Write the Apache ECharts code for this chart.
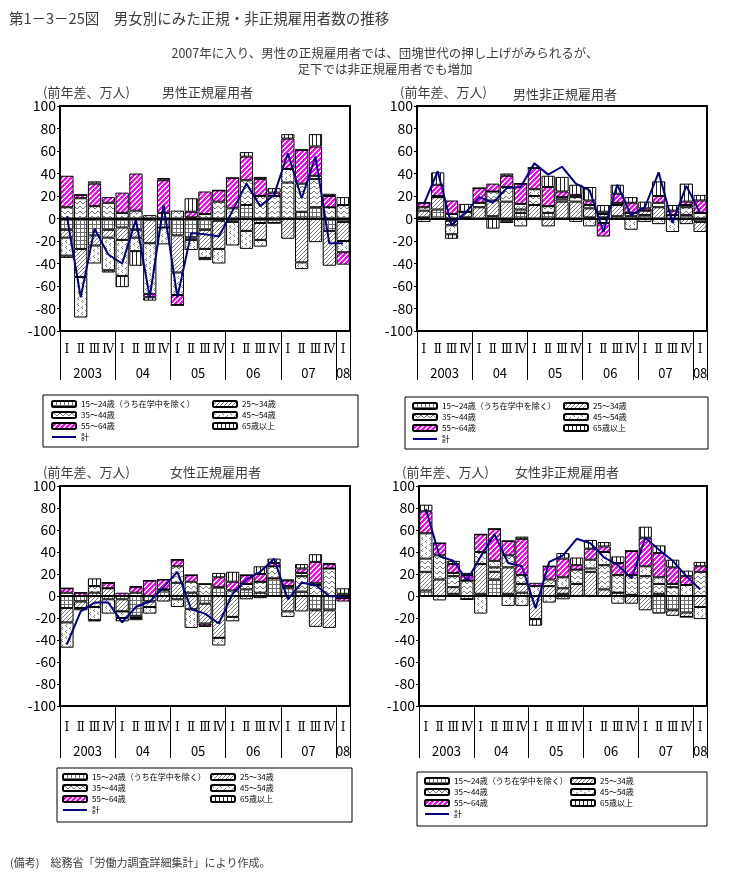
<!DOCTYPE html>
<html><head><meta charset="utf-8">
<script src="https://cdn.jsdelivr.net/npm/echarts@6/dist/echarts.min.js"></script>
<style>html,body{margin:0;padding:0;background:#fff}#c{width:731px;height:893px}</style>
</head><body><div id="c"></div>
<script>
// ---------- data ----------
const quarterLabels = ['Ⅰ','Ⅱ','Ⅲ','Ⅳ','Ⅰ','Ⅱ','Ⅲ','Ⅳ','Ⅰ','Ⅱ','Ⅲ','Ⅳ','Ⅰ','Ⅱ','Ⅲ','Ⅳ','Ⅰ','Ⅱ','Ⅲ','Ⅳ','Ⅰ'];
const yearLabels = ['2003','04','05','06','07','08'];
const quartersPerYear = [4,4,4,4,4,1];
const seriesNames = ['15～24歳（うち在学中を除く）','25～34歳','35～44歳','45～54歳','55～64歳','65歳以上','計'];
const yTicks = [-100,-80,-60,-40,-20,0,20,40,60,80,100];

// 男性正規雇用者
const mr1524 = [-10,-27,-15,-10,-8,-10,-1,-8,-15,-17,-10,-2,-1,12,-4,-4,0,6,10,-11,-3];
const mr2534 = [-7,-25,-9,-7,-11,-7,-21,0,-33,-2,-17,-25,-2,-11,-15,0,-18,-39,-21,-31,-17];
const mr3544 = [10,18,11,14,5,7,3,5,7,1,4,15,9,22,20,20,32,25,25,10,12];
const mr4554 = [-16,-36,-16,-29,-32,-12,-45,-15,-20,-9,-8,-13,-21,-16,-6,0,12,-6,3,0,-10];
const mr5564 = [28,3,20,5,18,33,-3,29,-9,5,20,10,27,21,15,3,27,30,26,10,-11];
const mr65   = [-2,0,2,-2,-10,-13,-3,2,0,12,-2,0,0,4,2,4,4,0,11,2,7];
const mrTotal = [2,-70,-9,-32,-40,-1,-70,12,-70,-13,-14,-16,7,31,11,21,58,18,55,-22,-22];

// 男性非正規雇用者
const mn1524 = [1,8,-2,1,-1,2,-2,5,0,5,0,0,1,1,2,2,3,0,0,3,-3];
const mn2534 = [6,11,-4,5,10,14,15,3,12,-7,15,15,8,3,10,3,4,10,3,-5,-9];
const mn3544 = [3,0,4,0,4,8,13,5,8,6,2,4,3,2,2,0,0,4,0,7,5];
const mn4554 = [-3,1,-8,0,0,0,-2,-7,6,0,2,-3,-7,-4,0,-10,-3,-5,-12,2,0];
const mn5564 = [4,10,12,0,13,7,10,18,19,17,5,2,4,-12,8,9,2,6,4,3,11];
const mn65   = [0,11,-4,7,0,-9,2,0,0,10,13,9,12,6,8,5,6,13,5,16,5];
const mnTotal = [13,42,-6,5,19,14,27,28,49,39,46,31,25,-12,30,3,10,41,-4,29,5];

// 女性正規雇用者
const fr1524 = [-11,-5,3,-3,-3,-18,-5,5,-3,3,-7,8,0,6,3,16,7,4,-13,-13,2];
const fr2534 = [-13,-6,-10,7,-11,-2,-5,-5,12,-12,-18,-38,-19,-3,-2,0,-14,-14,-15,-16,-2];
const fr3544 = [3,0,6,0,0,3,0,1,15,10,11,0,5,5,10,11,2,14,10,25,0];
const fr4554 = [-23,-2,-12,-13,-6,-2,-6,0,-7,-17,0,-7,-4,0,0,0,-5,3,2,0,0];
const fr5564 = [4,3,-1,5,3,5,14,9,6,6,-2,9,8,8,7,3,5,4,19,4,-3];
const fr65   = [0,0,7,0,-3,1,0,0,0,0,-1,4,9,0,7,4,1,4,7,1,5];
const frTotal = [-44,-14,-6,-6,-24,-10,-5,8,22,-12,-16,-25,2,15,22,34,-3,12,10,0,-1];

// 女性非正規雇用者
const fn1524 = [5,0,2,-3,2,15,2,3,0,0,2,0,0,0,3,1,0,-16,-13,-15,0];
const fn2534 = [17,15,6,0,27,7,24,8,-21,9,5,11,22,6,0,-7,-13,2,-5,-4,-10];
const fn3544 = [12,22,10,14,11,4,11,8,0,6,-3,13,3,22,16,18,18,9,8,0,22];
const fn4554 = [23,-4,3,0,-16,6,-9,-9,9,-6,10,0,8,12,-7,0,9,6,3,10,-11];
const fn5564 = [20,11,8,5,16,29,13,33,3,12,17,4,10,5,11,22,26,22,15,8,5];
const fn65   = [6,0,3,2,0,0,0,2,-6,0,5,7,8,4,6,0,10,7,7,5,4];
const fnTotal = [79,36,32,14,36,56,30,27,-11,31,37,52,48,35,28,16,53,42,32,18,6];

// ---------- derived axis positions ----------
const yearBoundaries = [0];
quartersPerYear.forEach(n => yearBoundaries.push(yearBoundaries[yearBoundaries.length-1] + n));
const yearCenters = quartersPerYear.map((n, i) => (yearBoundaries[i] + yearBoundaries[i+1]) / 2);

// ---------- patterns ----------
function pat(w, h, draw) {
  const c = document.createElement('canvas');
  c.width = w; c.height = h;
  const g = c.getContext('2d');
  g.fillStyle = '#fff'; g.fillRect(0, 0, w, h);
  draw(g);
  return { image: c, repeat: 'repeat' };
}
const patterns = [
  pat(4, 4, g => { g.fillStyle = '#6e6e6e'; g.fillRect(0,0,4,1); g.fillRect(0,0,1,4); }),
  pat(4, 4, g => { g.fillStyle = '#7a7a7a'; for (let i=0;i<4;i++) g.fillRect(3-i, i, 1, 1); }),
  pat(6, 5, g => { g.fillStyle = '#7a7a7a'; const ys=[2,1,1,2,3,3]; ys.forEach((y,x)=>g.fillRect(x,y,1,1)); }),
  pat(8, 6, g => { g.fillStyle = '#7a7a7a'; g.fillRect(1,1,1,1); g.fillRect(2,0,1,1); g.fillRect(2,2,1,1); g.fillRect(5,4,1,1); g.fillRect(6,3,1,1); g.fillRect(6,5,1,1); }),
  pat(5, 5, g => { g.fillStyle = '#ff00ff'; g.fillRect(0,0,5,5); g.fillStyle = '#fff'; for (let x=0;x<5;x++) for (let y=0;y<5;y++) { const k=(x+y)%5; if (k===0||k===1) g.fillRect(x,y,1,1); } }),
  pat(4, 1, g => { g.fillStyle = '#222'; g.fillRect(0,0,1,1); })
];

// ---------- layout ----------
const FONT = 'Noto Sans CJK JP';
const panels = [
  { name:'男性正規雇用者', bars:[mr1524,mr2534,mr3544,mr4554,mr5564,mr65], total:mrTotal,
    grid:{left:60,top:106,width:290,height:225}, unit:[38,81], title:[157,81], qm:13, ym:36, tl:49,
    box:[43,395,315,52], legA:[51,400], legB:[212,400] },
  { name:'男性非正規雇用者', bars:[mn1524,mn2534,mn3544,mn4554,mn5564,mn65], total:mnTotal,
    grid:{left:417,top:106,width:290,height:225}, unit:[395,81], title:[508,83], qm:13, ym:36, tl:49,
    box:[405,397,303,52], legA:[412,402], legB:[563,402] },
  { name:'女性正規雇用者', bars:[fr1524,fr2534,fr3544,fr4554,fr5564,fr65], total:frTotal,
    grid:{left:60,top:486,width:290,height:220}, unit:[38,461], title:[165,461], qm:16, ym:39, tl:52,
    box:[57,768,295,54], legA:[62,773], legB:[210,773] },
  { name:'女性非正規雇用者', bars:[fn1524,fn2534,fn3544,fn4554,fn5564,fn65], total:fnTotal,
    grid:{left:419,top:486,width:288,height:220}, unit:[397,461], title:[510,461], qm:16, ym:39, tl:52,
    box:[417,772,290,54], legA:[424,777], legB:[570,777] }
];

const option = {
  animation:false,
  backgroundColor:'#fff',
  textStyle:{fontFamily:FONT, color:'#000'},
  title:[
    {text:'第1－3－25図　男女別にみた正規・非正規雇用者数の推移', left:4, top:6, textStyle:{fontSize:14.5, fontWeight:'normal', fontFamily:FONT}},
    {text:'2007年に入り、男性の正規雇用者では、団塊世代の押し上げがみられるが、\n足下では非正規雇用者でも増加', left:380, top:40, textAlign:'center',
      textStyle:{fontSize:12.5, fontWeight:'normal', lineHeight:16, fontFamily:FONT, align:'center'}},
    {text:'(備考)　総務省「労働力調査詳細集計」により作成。', left:5, top:852, textStyle:{fontSize:11, fontWeight:'normal', fontFamily:FONT}}
  ],
  grid:[], xAxis:[], yAxis:[], series:[], legend:[], graphic:[]
};

panels.forEach((p, gi) => {
  option.title.push({text:'(前年差、万人)', left:p.unit[0], top:p.unit[1], textStyle:{fontSize:13, fontWeight:'normal', fontFamily:FONT}});
  option.title.push({text:p.name, left:p.title[0], top:p.title[1], textStyle:{fontSize:13, fontWeight:'normal', fontFamily:FONT}});
  option.grid.push(Object.assign({show:true, borderColor:'#000', borderWidth:2, backgroundColor:'transparent'}, p.grid));
  option.xAxis.push({type:'category', gridIndex:gi, data:quarterLabels, position:'bottom',
    axisLine:{show:false}, axisTick:{show:false}, splitLine:{show:false},
    axisLabel:{interval:0, margin:p.qm, fontSize:12, color:'#000', fontFamily:'DejaVu Serif'}});
  option.xAxis.push({type:'value', gridIndex:gi, min:yearBoundaries[0], max:yearBoundaries[yearBoundaries.length-1], position:'bottom',
    axisLine:{show:false}, splitLine:{show:false},
    axisTick:{show:true, customValues:yearBoundaries, length:p.tl, lineStyle:{color:'#000', width:1}},
    axisLabel:{show:true, customValues:yearCenters, margin:p.ym, fontSize:13, color:'#000', fontFamily:FONT,
      formatter: v => { const i = yearCenters.findIndex(c => Math.abs(c - v) < 1e-6); return i >= 0 ? yearLabels[i] : ''; }}});
  option.yAxis.push({type:'value', gridIndex:gi, min:yTicks[0], max:yTicks[yTicks.length-1], interval:yTicks[1]-yTicks[0],
    axisLine:{show:true, lineStyle:{color:'#000', width:2}}, axisTick:{show:true, length:3, lineStyle:{color:'#000'}},
    splitLine:{show:false}, axisLabel:{fontSize:14, color:'#000', margin:4, fontFamily:FONT}});
  p.bars.forEach((arr, si) => {
    const s = {type:'bar', name:seriesNames[si], xAxisIndex:gi*2, yAxisIndex:gi, stack:'st'+gi, data:arr,
      barCategoryGap:'4%', itemStyle:{color:patterns[si], borderColor:'#000', borderWidth:1}, emphasis:{disabled:true}, silent:true};
    if (si === 0) s.markLine = {silent:true, symbol:'none', data:[{yAxis:0}], label:{show:false}, lineStyle:{color:'#000', width:2, type:'solid'}};
    option.series.push(s);
  });
  option.series.push({type:'line', name:seriesNames[6], xAxisIndex:gi*2, yAxisIndex:gi, data:p.total, symbol:'none', z:5,
    lineStyle:{color:'#000080', width:2}, itemStyle:{color:'#000080'}, emphasis:{disabled:true}, silent:true});
  const legCommon = {orient:'vertical', itemWidth:24, itemHeight:6, itemGap:3, selectedMode:false, padding:0, symbolKeepAspect:true,
    textStyle:{fontSize:8, lineHeight:8, color:'#000', fontFamily:FONT}};
  option.legend.push(Object.assign({left:p.legA[0], top:p.legA[1],
    data:[seriesNames[0],seriesNames[2],seriesNames[4],{name:seriesNames[6], icon:'path://M0,0H24V2H0Z', itemStyle:{color:'#000080'}}]}, legCommon));
  option.legend.push(Object.assign({left:p.legB[0], top:p.legB[1], data:[seriesNames[1],seriesNames[3],seriesNames[5]]}, legCommon));
  option.graphic.push({type:'rect', shape:{x:p.box[0], y:p.box[1], width:p.box[2], height:p.box[3]}, style:{fill:'none', stroke:'#000', lineWidth:1}, silent:true});
});

const chart = echarts.init(document.getElementById('c'), null, {renderer:'canvas'});
chart.setOption(option);
</script></body></html>
